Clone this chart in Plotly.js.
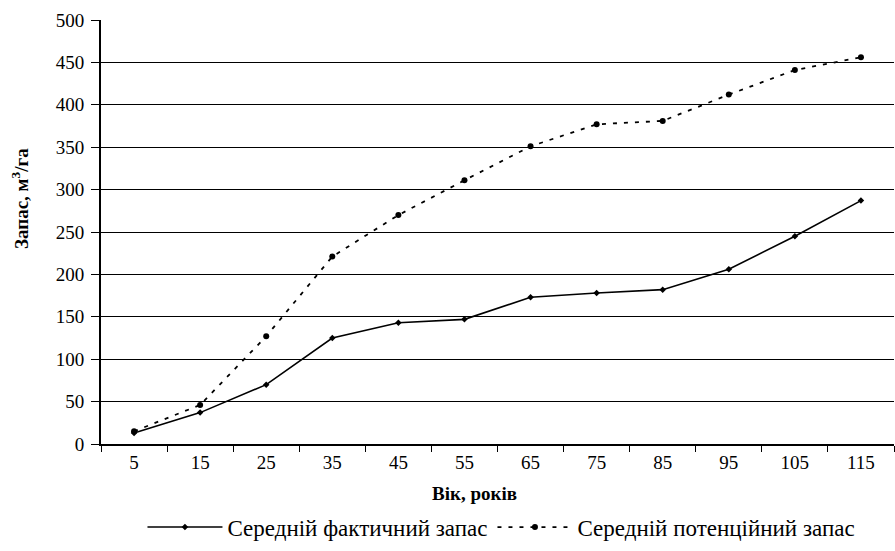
<!DOCTYPE html>
<html>
<head>
<meta charset="utf-8">
<script src="https://cdn.plot.ly/plotly-3.0.1.min.js"></script>
<style>html,body{margin:0;padding:0;background:#fff}#chart{width:895px;height:551px}</style>
</head>
<body>
<div id="chart"></div>
<script>
const ages = ["5","15","25","35","45","55","65","75","85","95","105","115"];
const actual = [13, 37, 70, 125, 143, 147, 173, 178, 182, 206, 245, 287];
const potential = [15, 46, 127, 221, 270, 311, 351, 377, 381, 412, 441, 456];
const actualName = "Середній фактичний запас";
const potentialName = "Середній потенційний запас";
const yTitle = "Запас, м<sup>3</sup>/га";
const xTitle = "Вік, років";

const font = "Liberation Serif, Times New Roman, serif";
const traces = [
  {x: ages, y: actual, name: actualName, type: "scatter", mode: "lines+markers",
   line: {color: "#000", width: 1.6}, marker: {color: "#000", size: 5, symbol: "diamond"}},
  {x: ages, y: potential, name: potentialName, type: "scatter", mode: "lines+markers",
   line: {color: "#000", width: 1.8, dash: "4px,7px"}, marker: {color: "#000", size: 6, symbol: "circle"}}
];
const layout = {
  width: 895, height: 551,
  margin: {l: 101, r: 1, t: 20, b: 107},
  paper_bgcolor: "#fff", plot_bgcolor: "#fff",
  font: {family: font, size: 19, color: "#000"},
  showlegend: true,
  legend: {orientation: "h", x: 0.505, xanchor: "center", y: -0.196, yanchor: "middle",
           font: {family: font, size: 23, color: "#000"}, itemwidth: 75},
  xaxis: {type: "category", tickson: "boundaries", ticks: "outside", ticklen: 6, tickcolor: "#000",
          showline: true, linecolor: "#000", linewidth: 2, showgrid: false, zeroline: false,
          tickfont: {family: font, size: 19}, range: [-0.5, 11.5]},
  yaxis: {range: [0, 500], dtick: 50, ticks: "outside", ticklen: 8, tickcolor: "#000",
          showline: true, linecolor: "#000", linewidth: 2, showgrid: true, gridcolor: "#000",
          gridwidth: 1, zeroline: false, tickfont: {family: font, size: 19}, ticklabelstandoff: 3},
  annotations: [
    {text: "<b>" + xTitle + "</b>", xref: "paper", yref: "paper", x: 0.4716, y: -0.1156,
     xanchor: "center", yanchor: "middle", showarrow: false, font: {family: font, size: 19}},
    {text: "<b>" + yTitle + "</b>", xref: "paper", yref: "paper", x: -0.102, y: 0.578,
     xanchor: "center", yanchor: "middle", textangle: -90, showarrow: false, font: {family: font, size: 19}}
  ]
};
Plotly.newPlot("chart", traces, layout, {displayModeBar: false, staticPlot: true});
</script>
</body>
</html>
